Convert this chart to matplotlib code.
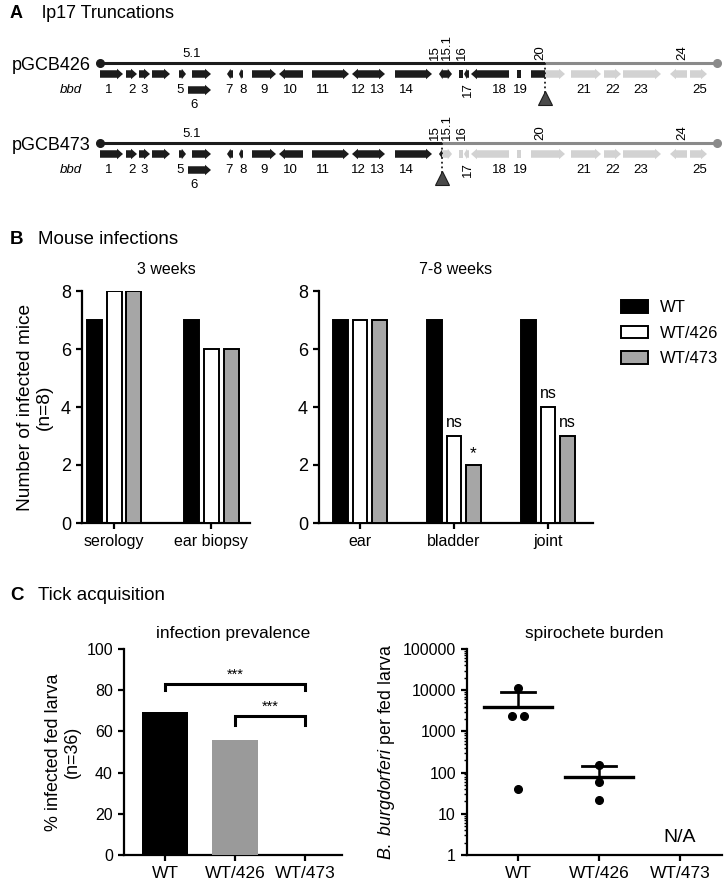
import numpy as np
import matplotlib
matplotlib.use("Agg")
import matplotlib.pyplot as plt
from matplotlib.patches import Polygon, Rectangle, Patch
from matplotlib.ticker import LogLocator, FuncFormatter, NullFormatter

plt.rcParams['font.family'] = ['Liberation Sans', 'DejaVu Sans']
plt.rcParams['mathtext.fontset'] = 'custom'
plt.rcParams['mathtext.rm'] = 'Liberation Sans'
plt.rcParams['mathtext.it'] = 'Liberation Sans:italic'

W, H = 725, 881
fig = plt.figure(figsize=(W / 100, H / 100), dpi=100)

def ftext(x, y, s, **kw):
    return fig.text(x / W, 1 - y / H, s, **kw)

def px_axes(x0, y0, x1, y1):
    return fig.add_axes([x0 / W, 1 - y1 / H, (x1 - x0) / W, (y1 - y0) / H])

# ------------------------------------------------------------------ DATA
# Panel A: lp17 gene map (map units)
gene_names = ['1', '2', '3', '4', '5', '5.1', '6', '7', '8', '9', '10', '11', '12', '13',
              '14', '15', '15.1', '16', '17', '18', '19', '20', '21', '22', '23', '24', '25']
gene_start = [100, 126, 139, 152, 179, 192, 188, 227, 239, 252, 279, 312, 352, 369,
              395, 439, 445, 459, 464, 471, 517, 531, 571, 604, 623, 670, 690]
gene_end = [123, 137, 150, 170, 186, 211, 211, 233, 243, 276, 303, 349, 369, 385,
            432, 445, 452, 463, 469, 509, 521, 565, 601, 621, 661, 687, 707]
gene_strand = [1, 1, 1, 1, 1, 1, 1, -1, -1, 1, -1, 1, -1, 1,
               1, -1, 1, 0, -1, -1, 0, 1, 1, 1, 1, -1, 1]
gene_row = [0, 0, 0, 0, 0, 0, 1, 0, 0, 0, 0, 0, 0, 0,
            0, 0, 0, 0, 0, 0, 0, 0, 0, 0, 0, 0, 0]

# gene labels: text, map position, placement
label_text = ['1', '2', '3', '5', '7', '8', '9', '10', '11', '12', '13', '14', '18', '19',
              '21', '22', '23', '25', '6', '5.1', '15', '15.1', '16', '20', '24', '17']
label_x = [109, 132, 144, 180, 229, 243, 264, 290, 323, 358, 377, 406, 499, 520,
           584, 613, 641, 700, 194, 192, 435, 447, 462, 540, 682, 468]
label_place = ['below'] * 18 + ['below2', 'above', 'above_v', 'above_v', 'above_v',
                                'above_v', 'above_v', 'below_v']

plasmid_names = ['pGCB426', 'pGCB473']
plasmid_start = 100
plasmid_end = 717
truncation = [545, 442]

# Panel B: mouse infections
series = ['WT', 'WT/426', 'WT/473']
b3_cats = ['serology', 'ear biopsy']
b3_wt = [7, 7]
b3_426 = [8, 6]
b3_473 = [8, 6]
b78_cats = ['ear', 'bladder', 'joint']
b78_wt = [7, 7, 7]
b78_426 = [7, 3, 4]
b78_473 = [7, 2, 3]
b78_sig_group = [1, 1, 2, 2]
b78_sig_series = [1, 2, 1, 2]
b78_sig_text = ['ns', '*', 'ns', 'ns']

# Panel C: tick acquisition
c_cats = ['WT', 'WT/426', 'WT/473']
prevalence = [69.4, 55.6, 0.0]
bracket_from = [0, 1]
bracket_to = [2, 2]
bracket_y = [83, 67.5]
bracket_leg = [80, 63]
bracket_text = ['***', '***']

burden_wt = [11200, 2350, 2350, 40]
burden_426 = [150, 60, 22]
burden_wt_jitter = [0.0, -0.08, 0.08, 0.0]
burden_426_jitter = [0.0, 0.0, 0.0]

# ------------------------------------------------------------------ PANEL A
axA = px_axes(0, 0, W, 200)
axA.set_xlim(0, W)
axA.set_ylim(200, 0)
axA.axis('off')

BLACK = '#1c1c1c'
LGREY = '#d2d2d2'
LINEGREY = '#8a8a8a'
bh, hh, hl = 7.5, 10.5, 6.0

def gene_poly(s, e, strand, y):
    L = e - s
    h = min(hl, L * 0.6)
    if strand == 1:
        pts = [(s, y - bh / 2), (e - h, y - bh / 2), (e - h, y - hh / 2), (e, y),
               (e - h, y + hh / 2), (e - h, y + bh / 2), (s, y + bh / 2)]
    elif strand == -1:
        pts = [(e, y - bh / 2), (s + h, y - bh / 2), (s + h, y - hh / 2), (s, y),
               (s + h, y + hh / 2), (s + h, y + bh / 2), (e, y + bh / 2)]
    else:
        pts = [(s, y - bh / 2), (e, y - bh / 2), (e, y + bh / 2), (s, y + bh / 2)]
    return pts

row_y = [63, 143]
for pi, (pname, tr) in enumerate(zip(plasmid_names, truncation)):
    ly = row_y[pi]
    # backbone
    axA.plot([plasmid_start, tr], [ly, ly], color=BLACK, lw=2.2, solid_capstyle='butt', zorder=2)
    axA.plot([tr, plasmid_end], [ly, ly], color=LINEGREY, lw=2.2, solid_capstyle='butt', zorder=2)
    axA.plot([plasmid_start], [ly], 'o', color=BLACK, ms=5.5, zorder=3)
    axA.plot([plasmid_end], [ly], 'o', color=LINEGREY, ms=5.5, zorder=3)
    axA.text(plasmid_start - 9, ly + 3, pname, ha='right', va='center', fontsize=13)
    # genes
    clipL = Rectangle((0, 0), tr, 200, transform=axA.transData)
    clipR = Rectangle((tr, 0), W - tr, 200, transform=axA.transData)
    for s, e, st, r in zip(gene_start, gene_end, gene_strand, gene_row):
        gy = ly + 11 + r * 16
        pts = gene_poly(s, e, st, gy)
        p1 = Polygon(pts, closed=True, facecolor=BLACK, edgecolor='none', zorder=3)
        axA.add_patch(p1)
        p1.set_clip_path(clipL)
        p2 = Polygon(pts, closed=True, facecolor=LGREY, edgecolor='none', zorder=3)
        axA.add_patch(p2)
        p2.set_clip_path(clipR)
    # labels
    axA.text(plasmid_start - 18, ly + 27, 'bbd', style='italic', ha='right', va='center', fontsize=9.5)
    for t, x, pl in zip(label_text, label_x, label_place):
        if pl == 'below':
            axA.text(x, ly + 27, t, ha='center', va='center', fontsize=9.5)
        elif pl == 'below2':
            axA.text(x, ly + 42, t, ha='center', va='center', fontsize=9.5)
        elif pl == 'above':
            axA.text(x, ly - 3, t, ha='center', va='bottom', fontsize=9.5)
        elif pl == 'above_v':
            axA.text(x, ly - 3, t, ha='center', va='bottom', rotation=90, fontsize=9.5)
        elif pl == 'below_v':
            axA.text(x, ly + 19, t, ha='center', va='top', rotation=90, fontsize=9.5)
    # truncation marker
    axA.plot([tr, tr], [ly, ly + 30], color=BLACK, lw=1.3, ls=(0, (1, 1.6)), zorder=4)
    axA.plot([tr], [ly + 35], marker='^', ms=9.5, color='#4a4a4a', mec=BLACK, mew=0.8, zorder=4)

ftext(10, 13, 'A', fontsize=13, fontweight='bold', va='center')
ftext(42, 13, 'lp17 Truncations', fontsize=13, va='center')

# ------------------------------------------------------------------ PANEL B
ftext(10, 240, 'B', fontsize=13.5, fontweight='bold', va='center')
ftext(38, 240, 'Mouse infections', fontsize=13.5, va='center')

bar_colors = ['black', 'white', '#a6a6a6']
offsets = [-0.205, 0.0, 0.205]
bw = 0.155

def style_axes(ax, lw=1.6):
    for sp in ['top', 'right']:
        ax.spines[sp].set_visible(False)
    for sp in ['left', 'bottom']:
        ax.spines[sp].set_linewidth(lw)
    ax.tick_params(width=lw, length=4.5)

def bar_panel(ax, cats, vals, xlim):
    x = np.arange(len(cats))
    for si in range(3):
        ax.bar(x + offsets[si], vals[si], width=bw, color=bar_colors[si],
               edgecolor='black', linewidth=1.4, zorder=3)
    ax.set_xlim(*xlim)
    ax.set_ylim(0, 8)
    ax.set_yticks([0, 2, 4, 6, 8])
    ax.set_xticks(x)
    ax.set_xticklabels(cats, fontsize=11.5)
    ax.tick_params(axis='y', labelsize=13)
    style_axes(ax)

axB1 = px_axes(82, 291, 250, 523)
bar_panel(axB1, b3_cats, [b3_wt, b3_426, b3_473], (-0.33, 1.40))
axB1.set_title('3 weeks', fontsize=11.5, pad=12)
axB1.set_ylabel('Number of infected mice\n(n=8)', fontsize=13.8, labelpad=6, linespacing=1.1)

axB2 = px_axes(319, 291, 593, 523)
bar_panel(axB2, b78_cats, [b78_wt, b78_426, b78_473], (-0.436, 2.479))
axB2.set_title('7-8 weeks', fontsize=11.5, pad=12)
allv = [b78_wt, b78_426, b78_473]
for g, s, t in zip(b78_sig_group, b78_sig_series, b78_sig_text):
    y = allv[s][g]
    if t == '*':
        axB2.text(g + offsets[s], y + 0.12, t, ha='center', va='bottom', fontsize=12.5)
    else:
        axB2.text(g + offsets[s], y + 0.22, t, ha='center', va='bottom', fontsize=11.5)

handles = [Patch(facecolor=c, edgecolor='black', linewidth=1.4) for c in bar_colors]
fig.legend(handles, series, loc='upper left', bbox_to_anchor=(621 / W, 1 - 300 / H),
           frameon=False, fontsize=12, handlelength=1.6, handleheight=0.8,
           handletextpad=0.75, labelspacing=0.62, borderpad=0, borderaxespad=0)

# ------------------------------------------------------------------ PANEL C
ftext(10, 596, 'C', fontsize=13.5, fontweight='bold', va='center')
ftext(38, 596, 'Tick acquisition', fontsize=13.5, va='center')

axC1 = px_axes(124, 649, 342, 855)
xc = np.arange(len(c_cats))
axC1.bar(xc, prevalence, width=0.645, color=['black', '#9a9a9a', 'white'], zorder=3)
axC1.set_xlim(-0.586, 2.53)
axC1.set_ylim(0, 100)
axC1.set_yticks([0, 20, 40, 60, 80, 100])
axC1.set_xticks(xc)
axC1.set_xticklabels(c_cats, fontsize=12.5)
axC1.tick_params(axis='y', labelsize=11.5)
style_axes(axC1)
axC1.set_title('infection prevalence', fontsize=12.4, pad=8)
axC1.set_ylabel('% infected fed larva\n(n=36)', fontsize=12.9, labelpad=4, linespacing=1.1)
for a, b, y, yl, t in zip(bracket_from, bracket_to, bracket_y, bracket_leg, bracket_text):
    axC1.plot([a, a, b, b], [yl, y, y, yl], color='black', lw=2.2, solid_joinstyle='miter', zorder=4)
    axC1.text((a + b) / 2, y + 1.2, t, ha='center', va='bottom', fontsize=10.5)

axC2 = px_axes(467, 649, 722, 855)
axC2.set_yscale('log')
axC2.set_ylim(1, 100000)
axC2.set_xlim(-0.63, 2.52)
for gi, (vals, jit) in enumerate([(burden_wt, burden_wt_jitter), (burden_426, burden_426_jitter)]):
    v = np.array(vals, dtype=float)
    m = v.mean()
    sd = v.std(ddof=1)
    axC2.plot(gi + np.array(jit), v, 'o', color='black', ms=5.5, zorder=4, clip_on=False)
    axC2.plot([gi - 0.425, gi + 0.425], [m, m], color='black', lw=2.4, zorder=3)
    axC2.plot([gi, gi], [m, m + sd], color='black', lw=1.8, zorder=3)
    axC2.plot([gi - 0.21, gi + 0.21], [m + sd, m + sd], color='black', lw=2.0, zorder=3)
axC2.text(2.0, 2.7, 'N/A', ha='center', va='center', fontsize=14)
axC2.set_xticks(xc)
axC2.set_xticklabels(c_cats, fontsize=12.5)
axC2.yaxis.set_major_locator(LogLocator(base=10, numticks=10))
axC2.yaxis.set_major_formatter(FuncFormatter(lambda v, p: '%d' % round(v)))
axC2.yaxis.set_minor_locator(LogLocator(base=10, subs=np.arange(2, 10), numticks=20))
axC2.yaxis.set_minor_formatter(NullFormatter())
style_axes(axC2)
axC2.tick_params(axis='y', labelsize=11.5)
axC2.tick_params(axis='y', which='minor', length=2.5, width=1.0)
axC2.set_title('spirochete burden', fontsize=12.4, pad=8)
axC2.set_ylabel(r'$\it{B.\ burgdorferi}$ per fed larva', fontsize=12.8, labelpad=4)

fig.savefig('out.png', dpi=100)
